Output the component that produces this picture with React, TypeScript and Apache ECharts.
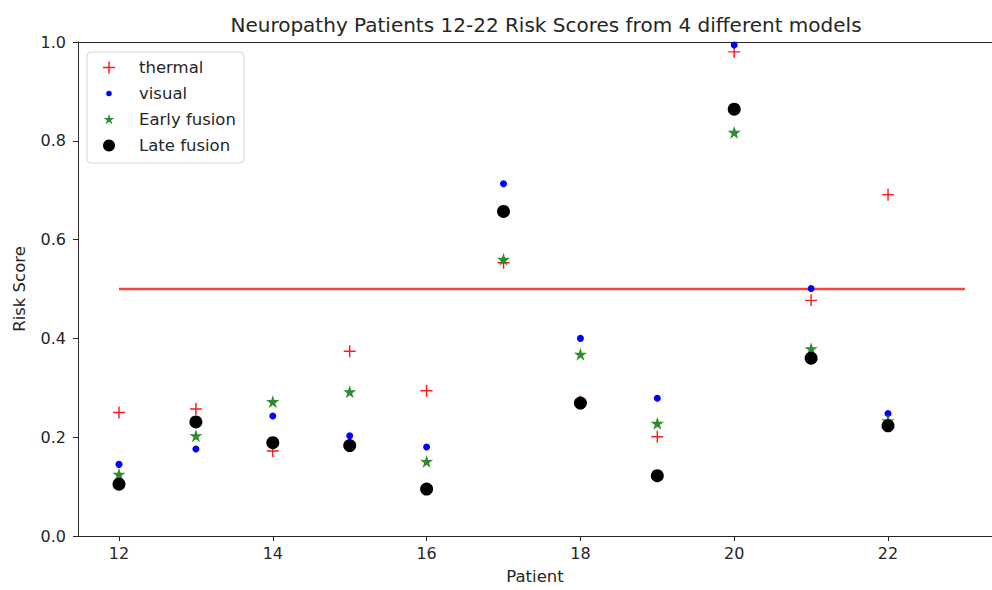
import React, { useEffect, useRef } from "react";
import * as echarts from "echarts";

const patients = [12, 13, 14, 15, 16, 17, 18, 19, 20, 21, 22];
const thermal = [0.25, 0.257, 0.172, 0.374, 0.294, 0.553, 0.272, 0.201, 0.98, 0.477, 0.691];
const visual = [0.145, 0.176, 0.243, 0.203, 0.18, 0.713, 0.4, 0.279, 0.994, 0.501, 0.248];
const earlyFusion = [0.125, 0.203, 0.272, 0.292, 0.151, 0.56, 0.368, 0.228, 0.817, 0.379, 0.233];
const lateFusion = [0.105, 0.231, 0.189, 0.183, 0.095, 0.657, 0.269, 0.122, 0.864, 0.36, 0.223];
const threshold = [[12, 0.5], [23, 0.5]];
const xTicks = [12, 14, 16, 18, 20, 22];
const yTicks = [0, 0.2, 0.4, 0.6, 0.8, 1.0];
const legendNames = ["thermal", "visual", "Early fusion", "Late fusion"];

const PLUS = "path://M4.4,0 H5.6 V4.4 H10 V5.6 H5.6 V10 H4.4 V5.6 H0 V4.4 H4.4 Z";
const STAR =
  "path://M50,0 L61.2,34.6 L97.6,34.5 L68.1,55.9 L79.4,90.5 L50,69 L20.6,90.5 L31.9,55.9 L2.4,34.5 L38.8,34.6 Z";
const SMALL_DOT =
  "path://M0,0 L0.001,0 L0,0.001 Z M13,13 L12.999,13 L13,12.999 Z M9.5,6.5 A3,3 0 1 1 3.5,6.5 A3,3 0 1 1 9.5,6.5 Z";
const LEGEND_STAR =
  "path://M0,0 L0.1,0 L0,0.1 Z M100,100 L99.9,100 L100,99.9 Z M50,4 L60.6,36.8 L95.1,36.7 L67.2,57 L77.9,89.7 L50,69.4 L22.1,89.7 L32.8,57 L4.9,36.7 L39.4,36.8 Z";

const FONT = "DejaVu Sans";
const INK = "#262626";

export default function App() {
  const ref = useRef<HTMLDivElement>(null);
  useEffect(() => {
    const chart = echarts.init(ref.current!, null, { renderer: "svg" });
    const pts = (arr: number[]) => patients.map((p, i) => [p, arr[i]]);
    chart.setOption({
      animation: false,
      backgroundColor: "#fff",
      textStyle: { fontFamily: FONT },
      title: {
        text: "Neuropathy Patients 12-22 Risk Scores from 4 different models",
        left: 541,
        textAlign: "center",
        top: 10,
        textStyle: { fontFamily: FONT, fontSize: 20, fontWeight: "normal", color: INK },
      },
      legend: {
        orient: "vertical",
        left: 87,
        top: 52,
        data: [
          { name: legendNames[0] },
          { name: legendNames[1], icon: SMALL_DOT },
          { name: legendNames[2], icon: LEGEND_STAR },
          { name: legendNames[3] },
        ],
        itemWidth: 14,
        itemHeight: 12,
        itemGap: 9,
        padding: [7, 8, 9, 16],
        borderColor: "#d4d4d4",
        borderWidth: 1,
        borderRadius: 4,
        textStyle: {
          fontFamily: FONT,
          fontSize: 16.5,
          color: INK,
          padding: [0, 0, 0, 18],
        },
      },
      grid: {
        left: 78,
        top: 42,
        right: 0,
        height: 495,
        show: false,
      },
      xAxis: [
        {
          type: "value",
          min: 11.467,
          max: 23.352,
          name: "Patient",
          nameLocation: "middle",
          nameGap: 32,
          nameTextStyle: { fontFamily: FONT, fontSize: 16.5, color: INK },
          splitLine: { show: false },
          axisLine: { lineStyle: { color: INK } },
          axisTick: { show: true, length: 5, customValues: xTicks, lineStyle: { color: INK } },
          axisLabel: { customValues: xTicks, fontSize: 16, color: INK, fontFamily: FONT, margin: 9 },
        },
        {
          type: "value",
          position: "top",
          min: 11.467,
          max: 23.352,
          splitLine: { show: false },
          axisLine: { show: true, lineStyle: { color: INK } },
          axisTick: { show: false },
          axisLabel: { show: false },
        },
      ],
      yAxis: {
        type: "value",
        min: 0,
        max: 1,
        interval: 0.2,
        name: "Risk Score",
        nameLocation: "middle",
        nameGap: 50,
        nameTextStyle: { fontFamily: FONT, fontSize: 16.5, color: INK },
        splitLine: { show: false },
        axisLine: { show: true, lineStyle: { color: INK } },
        axisTick: { show: true, length: 5, lineStyle: { color: INK } },
        axisLabel: {
          customValues: yTicks,
          fontSize: 16,
          color: INK,
          fontFamily: FONT,
          margin: 12,
          formatter: (v: number) => v.toFixed(1),
        },
      },
      series: [
        {
          name: "threshold",
          type: "line",
          data: threshold,
          symbol: "none",
          lineStyle: { color: "#f0463c", width: 2.5 },
          z: 1,
          silent: true,
        },
        {
          name: "thermal",
          type: "scatter",
          data: pts(thermal),
          symbol: PLUS,
          symbolSize: 12,
          itemStyle: { color: "#ff1a1a", opacity: 1 },
          z: 2,
        },
        {
          name: "visual",
          type: "scatter",
          data: pts(visual),
          symbol: "circle",
          symbolSize: 7,
          itemStyle: { color: "#0000ff", opacity: 1 },
          z: 3,
        },
        {
          name: "Early fusion",
          type: "scatter",
          data: pts(earlyFusion),
          symbol: STAR,
          symbolSize: 13,
          itemStyle: { color: "#2e8b2e", opacity: 1 },
          z: 4,
        },
        {
          name: "Late fusion",
          type: "scatter",
          data: pts(lateFusion),
          symbol: "circle",
          symbolSize: 13,
          itemStyle: { color: "#000", opacity: 1 },
          z: 5,
        },
      ],
    });
    return () => chart.dispose();
  }, []);
  return <div ref={ref} style={{ width: 992, height: 590, position: "absolute", left: 0, top: 0 }} />;
}
